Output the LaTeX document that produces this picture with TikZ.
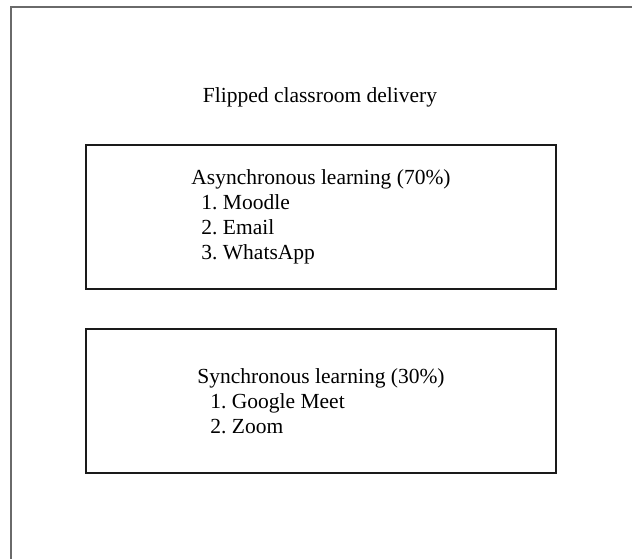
\documentclass[tikz,border=0pt]{standalone}
\usepackage{fontspec}
\setmainfont{Liberation Serif}
\usetikzlibrary{positioning}
\definecolor{flipDark}{HTML}{1A1A1A}
\definecolor{flipFrame}{HTML}{6A6A6A}
\frenchspacing
\tikzset{
  mode box/.style={draw=flipDark, line width=0.75pt, align=left,
    minimum width=235pt, minimum height=72pt, inner sep=0pt},
}

\begin{document}
\begin{tikzpicture}[x=0.5pt, y=-0.5pt, font=\fontsize{10.75}{12.5}\selectfont, line cap=rect]
  \useasboundingbox (0,0) rectangle (632,558);

  % Frame (only top and left edges show)
  \draw[flipFrame, line width=1pt] (11,558) -- (11,7) -- (632,7);

  % Heading
  \node (flipped) at (320,97) {Flipped classroom delivery};

  % ---- Asynchronous part ----
  \node[mode box] (async) at (321,217)
    {Asynchronous learning (70\%)\\
     \hspace{5pt}1. Moodle\\
     \hspace{5pt}2. Email\\
     \hspace{5pt}3. WhatsApp};

  % ---- Synchronous part ----
  \node[mode box] (sync) at (321,401)
    {Synchronous learning (30\%)\\
     \hspace{6.5pt}1. Google Meet\\
     \hspace{6.5pt}2. Zoom};
\end{tikzpicture}
\end{document}
